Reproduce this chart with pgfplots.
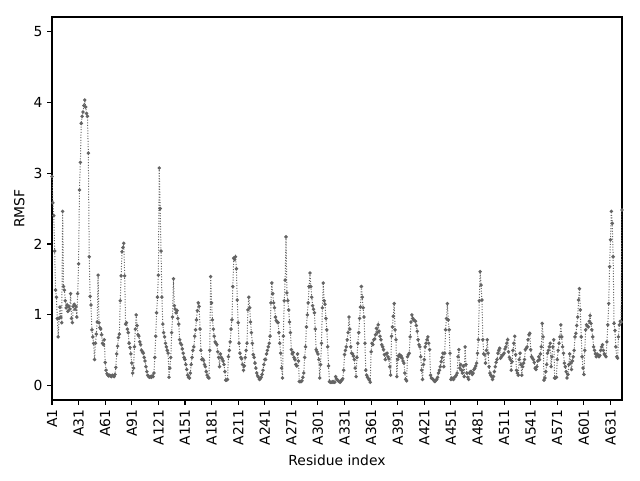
\documentclass[border=0pt]{standalone}
\usepackage{fontspec}
\setmainfont{DejaVu Sans}
\usepackage{pgfplots}
\pgfplotsset{compat=1.18}
\definecolor{lc}{RGB}{100,100,100}
\begin{document}
\begin{tikzpicture}
\begin{axis}[
  scale only axis, width=427.5pt, height=287.25pt,
  xmin=1, xmax=644, ymin=-0.2, ymax=5.2,
  xtick={1,31,...,631},
  xticklabels={A1,A31,A61,A91,A121,A151,A181,A211,A241,A271,A301,A331,A361,A391,A421,A451,A481,A511,A541,A571,A601,A631},
  x tick label style={rotate=90, anchor=east},
  ytick={0,1,2,3,4,5},
  tick pos=left, tick align=outside, major tick length=3.6pt,
  /pgf/number format/assume math mode=true,
  tick label style={font=\fontsize{10.4}{12}\selectfont},
  label style={font=\fontsize{10.4}{12}\selectfont},
  xlabel={Residue index}, ylabel={RMSF},
  axis line style={line width=0.8pt},
  every tick/.style={black, line width=0.8pt},
]
\addplot[lc, line width=0.75pt, dash pattern=on 0.75pt off 1.24pt, mark=*, mark size=0.9pt, mark options={solid}] coordinates {
(1,2.95)(2,2.58)(3,2.40)(4,1.90)(5,1.35)(6,1.25)(7,0.95)(8,0.69)(9,0.95)(10,1.11)
(11,0.97)(12,0.89)(13,2.46)(14,1.40)(15,1.35)(16,1.20)(17,1.10)(18,1.14)(19,1.05)(20,1.12)
(21,1.08)(22,1.30)(23,0.95)(24,0.89)(25,1.12)(26,1.15)(27,1.08)(28,1.12)(29,0.97)(30,1.30)
(31,1.72)(32,2.76)(33,3.15)(34,3.70)(35,3.80)(36,3.86)(37,3.95)(38,4.03)(39,3.93)(40,3.84)
(41,3.80)(42,3.28)(43,1.82)(44,1.26)(45,1.14)(46,0.79)(47,0.69)(48,0.60)(49,0.37)(50,0.60)
(51,0.73)(52,0.90)(53,1.56)(54,0.89)(55,0.82)(56,0.80)(57,0.72)(58,0.60)(59,0.58)(60,0.65)
(61,0.33)(62,0.22)(63,0.17)(64,0.15)(65,0.14)(66,0.15)(67,0.14)(68,0.13)(69,0.15)(70,0.14)
(71,0.13)(72,0.16)(73,0.26)(74,0.45)(75,0.56)(76,0.68)(77,0.73)(78,1.20)(79,1.55)(80,1.89)
(81,1.95)(82,2.01)(83,1.55)(84,0.87)(85,0.89)(86,0.80)(87,0.75)(88,0.60)(89,0.54)(90,0.45)
(91,0.32)(92,0.18)(93,0.25)(94,0.55)(95,0.80)(96,1.00)(97,0.85)(98,0.72)(99,0.70)(100,0.62)
(101,0.58)(102,0.50)(103,0.48)(104,0.46)(105,0.40)(106,0.35)(107,0.27)(108,0.20)(109,0.15)(110,0.13)
(111,0.12)(112,0.13)(113,0.12)(114,0.14)(115,0.13)(116,0.18)(117,0.40)(118,0.70)(119,1.03)(120,1.25)
(121,1.56)(122,3.07)(123,2.50)(124,1.90)(125,1.25)(126,0.87)(127,0.75)(128,0.69)(129,0.60)(130,0.55)
(131,0.50)(132,0.46)(133,0.12)(134,0.25)(135,0.40)(136,0.75)(137,0.97)(138,1.51)(139,1.13)(140,1.08)
(141,1.03)(142,1.06)(143,0.95)(144,0.87)(145,0.65)(146,0.60)(147,0.58)(148,0.52)(149,0.46)(150,0.40)
(151,0.37)(152,0.30)(153,0.23)(154,0.15)(155,0.12)(156,0.11)(157,0.18)(158,0.30)(159,0.40)(160,0.50)
(161,0.55)(162,0.70)(163,0.79)(164,0.93)(165,1.06)(166,1.17)(167,1.12)(168,0.80)(169,0.50)(170,0.37)
(171,0.38)(172,0.36)(173,0.30)(174,0.27)(175,0.20)(176,0.15)(177,0.12)(178,0.11)(179,0.50)(180,1.54)
(181,1.17)(182,0.93)(183,0.80)(184,0.70)(185,0.62)(186,0.60)(187,0.58)(188,0.48)(189,0.40)(190,0.27)
(191,0.45)(192,0.40)(193,0.38)(194,0.35)(195,0.30)(196,0.20)(197,0.08)(198,0.08)(199,0.09)(200,0.41)
(201,0.50)(202,0.62)(203,0.80)(204,0.93)(205,1.40)(206,1.80)(207,1.78)(208,1.82)(209,1.65)(210,1.21)
(211,0.89)(212,0.60)(213,0.46)(214,0.40)(215,0.38)(216,0.30)(217,0.22)(218,0.28)(219,0.40)(220,0.50)
(221,0.60)(222,1.07)(223,1.25)(224,1.10)(225,0.90)(226,0.75)(227,0.60)(228,0.44)(229,0.40)(230,0.32)
(231,0.25)(232,0.18)(233,0.14)(234,0.12)(235,0.09)(236,0.10)(237,0.12)(238,0.16)(239,0.22)(240,0.30)
(241,0.37)(242,0.37)(243,0.45)(244,0.50)(245,0.55)(246,0.60)(247,0.70)(248,1.17)(249,1.45)(250,1.30)
(251,1.17)(252,1.10)(253,0.97)(254,0.92)(255,0.90)(256,0.89)(257,0.75)(258,0.60)(259,0.46)(260,0.25)
(261,0.11)(262,0.70)(263,1.20)(264,1.49)(265,2.10)(266,1.31)(267,1.20)(268,1.07)(269,0.90)(270,0.75)
(271,0.51)(272,0.45)(273,0.47)(274,0.40)(275,0.37)(276,0.30)(277,0.28)(278,0.45)(279,0.35)(280,0.06)
(281,0.06)(282,0.06)(283,0.07)(284,0.12)(285,0.18)(286,0.40)(287,0.55)(288,0.83)(289,1.00)(290,1.17)
(291,1.40)(292,1.59)(293,1.40)(294,1.25)(295,1.13)(296,1.08)(297,1.03)(298,0.80)(299,0.51)(300,0.48)
(301,0.45)(302,0.37)(303,0.11)(304,0.30)(305,0.60)(306,1.10)(307,1.45)(308,1.20)(309,1.15)(310,0.95)
(311,0.79)(312,0.55)(313,0.28)(314,0.06)(315,0.05)(316,0.05)(317,0.05)(318,0.06)(319,0.05)(320,0.05)
(321,0.13)(322,0.10)(323,0.08)(324,0.07)(325,0.06)(326,0.05)(327,0.07)(328,0.08)(329,0.10)(330,0.22)
(331,0.44)(332,0.50)(333,0.55)(334,0.65)(335,0.75)(336,0.97)(337,0.80)(338,0.55)(339,0.46)(340,0.45)
(341,0.42)(342,0.37)(343,0.25)(344,0.13)(345,0.40)(346,0.60)(347,0.75)(348,0.95)(349,1.11)(350,1.40)
(351,1.25)(352,1.10)(353,0.97)(354,0.60)(355,0.22)(356,0.15)(357,0.12)(358,0.10)(359,0.08)(360,0.05)
(361,0.48)(362,0.60)(363,0.58)(364,0.65)(365,0.66)(366,0.72)(367,0.81)(368,0.75)(369,0.86)(370,0.77)
(371,0.70)(372,0.65)(373,0.58)(374,0.55)(375,0.51)(376,0.44)(377,0.37)(378,0.45)(379,0.46)(380,0.41)
(381,0.38)(382,0.27)(383,0.15)(384,0.70)(385,0.83)(386,0.98)(387,1.16)(388,0.79)(389,0.65)(390,0.13)
(391,0.37)(392,0.42)(393,0.44)(394,0.41)(395,0.42)(396,0.39)(397,0.35)(398,0.32)(399,0.18)(400,0.09)
(401,0.07)(402,0.41)(403,0.44)(404,0.46)(405,0.69)(406,0.90)(407,1.00)(408,0.95)(409,0.93)(410,0.92)
(411,0.91)(412,0.85)(413,0.77)(414,0.65)(415,0.58)(416,0.55)(417,0.41)(418,0.22)(419,0.09)(420,0.30)
(421,0.37)(422,0.55)(423,0.60)(424,0.65)(425,0.69)(426,0.60)(427,0.51)(428,0.15)(429,0.11)(430,0.10)
(431,0.09)(432,0.07)(433,0.06)(434,0.08)(435,0.09)(436,0.12)(437,0.18)(438,0.22)(439,0.27)(440,0.34)
(441,0.40)(442,0.46)(443,0.27)(444,0.46)(445,0.79)(446,0.95)(447,1.16)(448,0.93)(449,0.79)(450,0.46)
(451,0.09)(452,0.11)(453,0.10)(454,0.09)(455,0.12)(456,0.13)(457,0.15)(458,0.18)(459,0.41)(460,0.51)
(461,0.25)(462,0.30)(463,0.22)(464,0.18)(465,0.28)(466,0.13)(467,0.55)(468,0.30)(469,0.18)(470,0.12)
(471,0.09)(472,0.18)(473,0.20)(474,0.20)(475,0.16)(476,0.18)(477,0.23)(478,0.25)(479,0.28)(480,0.32)
(481,0.46)(482,0.65)(483,1.20)(484,1.61)(485,1.42)(486,1.21)(487,0.65)(488,0.45)(489,0.44)(490,0.32)
(491,0.50)(492,0.65)(493,0.46)(494,0.27)(495,0.18)(496,0.15)(497,0.13)(498,0.09)(499,0.13)(500,0.20)
(501,0.27)(502,0.33)(503,0.37)(504,0.46)(505,0.50)(506,0.53)(507,0.39)(508,0.41)(509,0.43)(510,0.44)
(511,0.46)(512,0.52)(513,0.55)(514,0.60)(515,0.65)(516,0.48)(517,0.40)(518,0.37)(519,0.22)(520,0.34)
(521,0.50)(522,0.60)(523,0.70)(524,0.44)(525,0.22)(526,0.18)(527,0.15)(528,0.37)(529,0.46)(530,0.30)
(531,0.15)(532,0.27)(533,0.32)(534,0.37)(535,0.51)(536,0.53)(537,0.55)(538,0.65)(539,0.72)(540,0.74)
(541,0.51)(542,0.41)(543,0.39)(544,0.37)(545,0.33)(546,0.25)(547,0.23)(548,0.27)(549,0.35)(550,0.41)
(551,0.37)(552,0.45)(553,0.55)(554,0.88)(555,0.69)(556,0.08)(557,0.11)(558,0.20)(559,0.30)(560,0.46)
(561,0.50)(562,0.55)(563,0.60)(564,0.27)(565,0.41)(566,0.55)(567,0.65)(568,0.11)(569,0.11)(570,0.12)
(571,0.37)(572,0.50)(573,0.60)(574,0.69)(575,0.86)(576,0.69)(577,0.55)(578,0.46)(579,0.32)(580,0.27)
(581,0.20)(582,0.11)(583,0.16)(584,0.30)(585,0.45)(586,0.32)(587,0.23)(588,0.35)(589,0.41)(590,0.50)
(591,0.69)(592,0.74)(593,0.85)(594,0.97)(595,1.21)(596,1.37)(597,1.07)(598,0.69)(599,0.41)(600,0.25)
(601,0.16)(602,0.50)(603,0.79)(604,0.86)(605,0.84)(606,0.83)(607,0.91)(608,0.99)(609,0.88)(610,0.79)
(611,0.69)(612,0.55)(613,0.50)(614,0.45)(615,0.41)(616,0.45)(617,0.43)(618,0.41)(619,0.43)(620,0.50)
(621,0.55)(622,0.58)(623,0.50)(624,0.45)(625,0.43)(626,0.41)(627,0.62)(628,0.86)(629,1.16)(630,1.68)
(631,2.06)(632,2.46)(633,2.29)(634,1.82)(635,0.88)(636,0.78)(637,0.55)(638,0.41)(639,0.39)(640,0.69)
(641,0.86)(642,0.91)(643,0.90)(644,2.48)
};
\end{axis}
\pgfresetboundingbox
\path (-39pt,-60pt) rectangle (441pt,300pt);
\end{tikzpicture}
\end{document}
